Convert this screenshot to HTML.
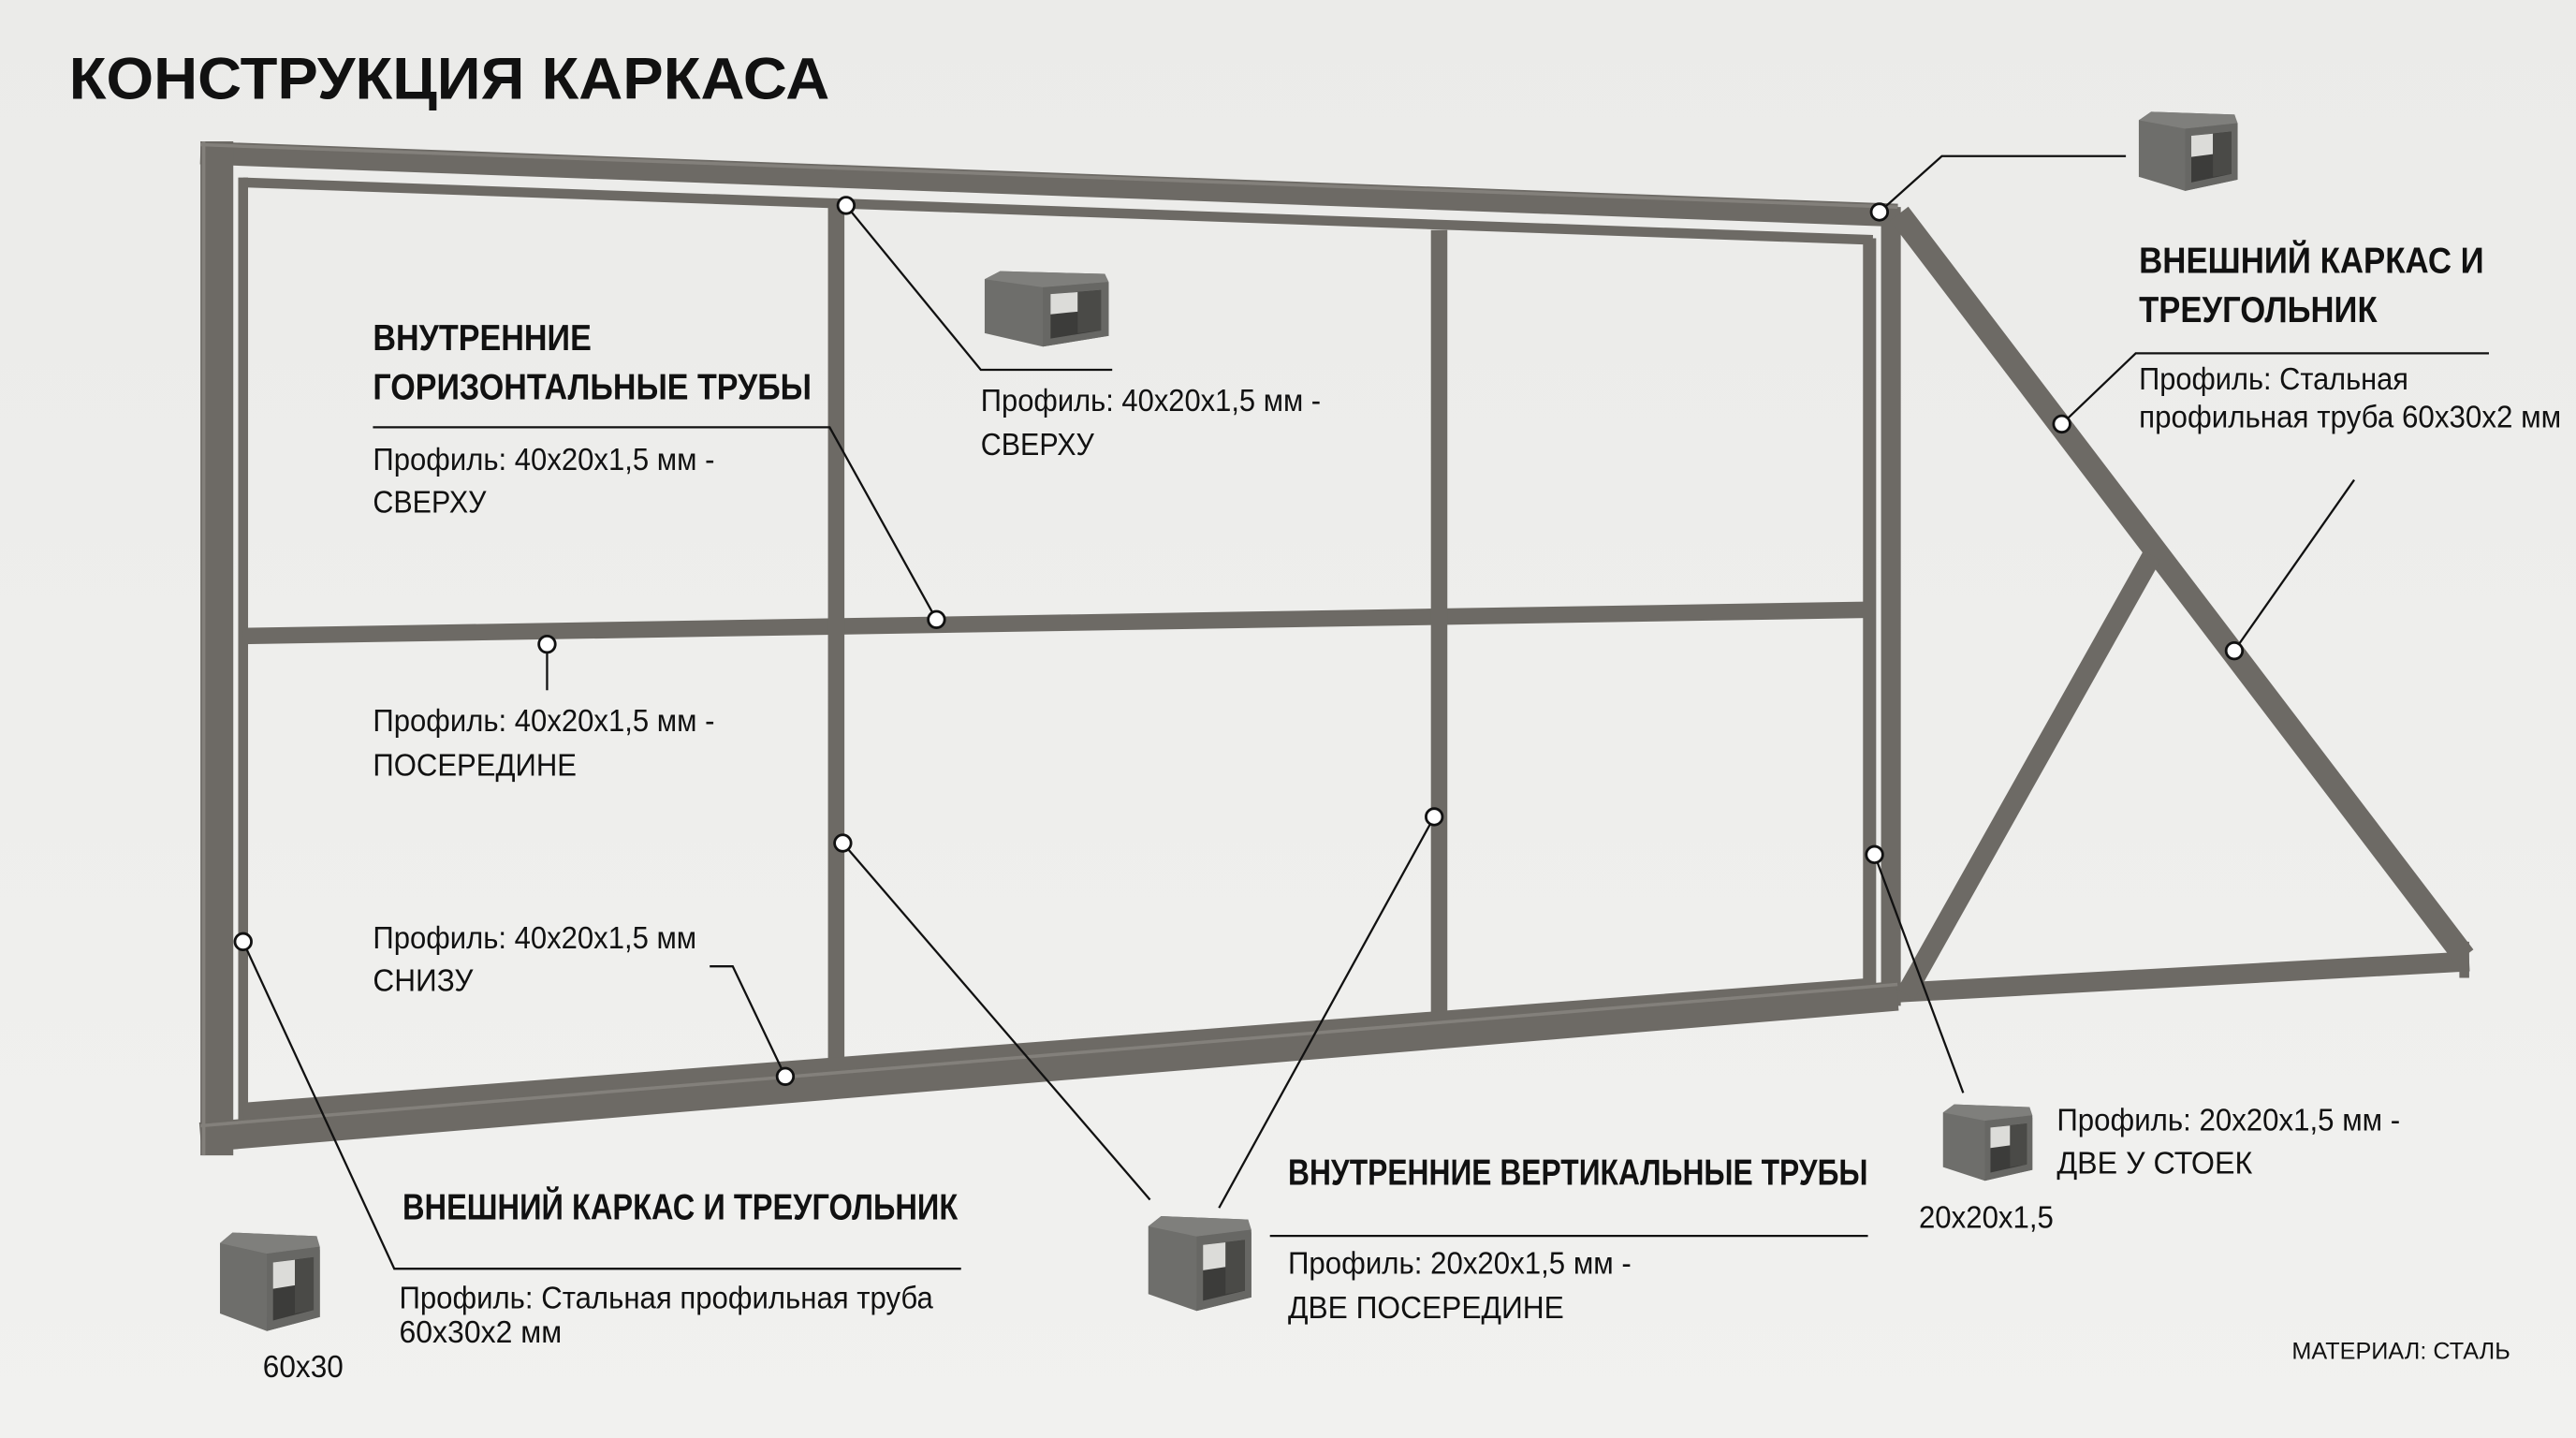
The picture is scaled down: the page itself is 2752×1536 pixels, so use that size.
<!DOCTYPE html>
<html><head><meta charset="utf-8">
<style>
html,body{margin:0;padding:0;background:#ededeb;}
svg{display:block}
text{font-family:"Liberation Sans Narrow","Liberation Sans","DejaVu Sans Condensed",sans-serif;fill:#111;}
.b{font-weight:bold;font-size:22px}
.n{font-size:19px}
</style></head><body>
<svg width="2752" height="1536" viewBox="0 0 1568 875" preserveAspectRatio="none" xmlns="http://www.w3.org/2000/svg">
<defs>
<linearGradient id="bg" x1="0" y1="0" x2="0" y2="1"><stop offset="0" stop-color="#ebebe9"/><stop offset="1" stop-color="#f1f1ef"/></linearGradient>
<g id="tube">
<path d="M2,6 L10,0 L64,2 L66,10 L66,48 L32,56 L2,46 Z" fill="#6e6e6b"/>
<path d="M2,6 L10,0 L64,2 L66,8 L32,12 Z" fill="#7f7f7c"/>
<path d="M32,12 L66,8 L66,48 L32,56 Z" fill="#676764"/>
<path d="M36,17 L62,14 L62,44 L36,50 Z" fill="#3c3c3a"/>
<path d="M36,17 L50,15.5 L50,30 L36,32 Z" fill="#dcdcd9"/>
<path d="M50,15.5 L62,14 L62,44 L50,46 Z" fill="#4a4a47"/>
</g>
</defs>
<rect width="1568" height="875" fill="url(#bg)"/>
<text x="42" y="60" font-weight="bold" font-size="36" textLength="463" lengthAdjust="spacingAndGlyphs">КОНСТРУКЦИЯ КАРКАСА</text>

<g stroke="#6d6a65" stroke-linecap="butt" fill="none">
<line x1="122" y1="93" x2="1155" y2="131" stroke-width="14"/>
<line x1="148" y1="111" x2="1140" y2="146" stroke-width="6"/>
<line x1="132" y1="86" x2="132" y2="703" stroke-width="20"/>
<line x1="148" y1="108" x2="148" y2="688" stroke-width="6"/>
<line x1="1151" y1="126" x2="1151" y2="612" stroke-width="12"/>
<line x1="1138" y1="145" x2="1138" y2="605" stroke-width="8"/>
<line x1="148" y1="387" x2="1140" y2="371" stroke-width="10"/>
<line x1="509" y1="125" x2="509" y2="655" stroke-width="10"/>
<line x1="876" y1="140" x2="876" y2="622" stroke-width="10"/>
<line x1="148" y1="676" x2="1140" y2="600" stroke-width="10"/>
<line x1="122" y1="692" x2="1155" y2="606" stroke-width="18"/>
<line x1="1155" y1="604" x2="1503" y2="585" stroke-width="12"/>
<line x1="1156" y1="130" x2="1500" y2="582" stroke-width="14"/>
<line x1="1160" y1="605" x2="1310" y2="338" stroke-width="12"/>
<line x1="1500" y1="573" x2="1500" y2="595" stroke-width="6"/>
</g>
<g stroke="#8d8a85" stroke-width="2" fill="none" opacity="0.7">
<line x1="122" y1="88" x2="1155" y2="126"/>
<line x1="124" y1="86" x2="124" y2="703"/>
<line x1="122" y1="685" x2="1155" y2="599"/>
</g>

<g stroke="#111" stroke-width="1.3" fill="none">
<polyline points="515,125 597,225 677,225"/>
<polyline points="227,260 505,260 570,377"/>
<line x1="333" y1="392" x2="333" y2="420"/>
<polyline points="432,588 446,588 478,655"/>
<polyline points="148,573 240,772 585,772"/>
<line x1="513" y1="513" x2="700" y2="730"/>
<line x1="873" y1="497" x2="742" y2="735"/>
<line x1="773" y1="752" x2="1137" y2="752"/>
<line x1="1141" y1="520" x2="1195" y2="665"/>
<polyline points="1144,129 1182,95 1294,95"/>
<polyline points="1255,258 1300,215 1515,215"/>
<line x1="1360" y1="396" x2="1433" y2="292"/>
</g>
<g fill="#fff" stroke="#111" stroke-width="1.6">
<circle cx="515" cy="125" r="5"/><circle cx="570" cy="377" r="5"/><circle cx="333" cy="392" r="5"/>
<circle cx="478" cy="655" r="5"/><circle cx="148" cy="573" r="5"/><circle cx="513" cy="513" r="5"/>
<circle cx="873" cy="497" r="5"/><circle cx="1141" cy="520" r="5"/><circle cx="1144" cy="129" r="5"/>
<circle cx="1255" cy="258" r="5"/><circle cx="1360" cy="396" r="5"/>
</g>

<use href="#tube" transform="translate(597,165) scale(1.18,0.82)"/>
<use href="#tube" transform="translate(1300,68) scale(0.94,0.86)"/>
<use href="#tube" transform="translate(132,750) scale(0.95,1.07)"/>
<use href="#tube" transform="translate(697,740) scale(0.98,1.03)"/>
<use href="#tube" transform="translate(1181,672) scale(0.85,0.83)"/>

<text class="b" x="227" y="213" textLength="133" lengthAdjust="spacingAndGlyphs">ВНУТРЕННИЕ</text>
<text class="b" x="227" y="243" textLength="267" lengthAdjust="spacingAndGlyphs">ГОРИЗОНТАЛЬНЫЕ ТРУБЫ</text>
<text class="n" x="227" y="286" textLength="208" lengthAdjust="spacingAndGlyphs">Профиль: 40x20x1,5 мм -</text>
<text class="n" x="227" y="312" textLength="69" lengthAdjust="spacingAndGlyphs">СВЕРХУ</text>
<text class="n" x="597" y="250" textLength="207" lengthAdjust="spacingAndGlyphs">Профиль: 40x20x1,5 мм -</text>
<text class="n" x="597" y="277" textLength="69" lengthAdjust="spacingAndGlyphs">СВЕРХУ</text>
<text class="n" x="227" y="445" textLength="208" lengthAdjust="spacingAndGlyphs">Профиль: 40x20x1,5 мм -</text>
<text class="n" x="227" y="472" textLength="124" lengthAdjust="spacingAndGlyphs">ПОСЕРЕДИНЕ</text>
<text class="n" x="227" y="577" textLength="197" lengthAdjust="spacingAndGlyphs">Профиль: 40x20x1,5 мм</text>
<text class="n" x="227" y="603" textLength="61" lengthAdjust="spacingAndGlyphs">СНИЗУ</text>
<text class="b" x="245" y="742" textLength="338" lengthAdjust="spacingAndGlyphs">ВНЕШНИЙ КАРКАС И ТРЕУГОЛЬНИК</text>
<text class="n" x="243" y="796" textLength="325" lengthAdjust="spacingAndGlyphs">Профиль: Стальная профильная труба</text>
<text class="n" x="243" y="817" textLength="99" lengthAdjust="spacingAndGlyphs">60x30x2 мм</text>
<text class="n" x="160" y="838" textLength="49" lengthAdjust="spacingAndGlyphs">60x30</text>
<text class="b" x="784" y="721" textLength="353" lengthAdjust="spacingAndGlyphs">ВНУТРЕННИЕ ВЕРТИКАЛЬНЫЕ ТРУБЫ</text>
<text class="n" x="784" y="775" textLength="209" lengthAdjust="spacingAndGlyphs">Профиль: 20x20x1,5 мм -</text>
<text class="n" x="784" y="802" textLength="168" lengthAdjust="spacingAndGlyphs">ДВЕ ПОСЕРЕДИНЕ</text>
<text class="n" x="1168" y="747" textLength="82" lengthAdjust="spacingAndGlyphs">20x20x1,5</text>
<text class="n" x="1252" y="688" textLength="209" lengthAdjust="spacingAndGlyphs">Профиль: 20x20x1,5 мм -</text>
<text class="n" x="1252" y="714" textLength="119" lengthAdjust="spacingAndGlyphs">ДВЕ У СТОЕК</text>
<text class="b" x="1302" y="166" textLength="210" lengthAdjust="spacingAndGlyphs">ВНЕШНИЙ КАРКАС И</text>
<text class="b" x="1302" y="196" textLength="145" lengthAdjust="spacingAndGlyphs">ТРЕУГОЛЬНИК</text>
<text class="n" x="1302" y="237" textLength="164" lengthAdjust="spacingAndGlyphs">Профиль: Стальная</text>
<text class="n" x="1302" y="260" textLength="257" lengthAdjust="spacingAndGlyphs">профильная труба 60x30x2 мм</text>
<text x="1395" y="827" font-size="14" textLength="133" lengthAdjust="spacingAndGlyphs">МАТЕРИАЛ: СТАЛЬ</text>
</svg>
</body></html>
